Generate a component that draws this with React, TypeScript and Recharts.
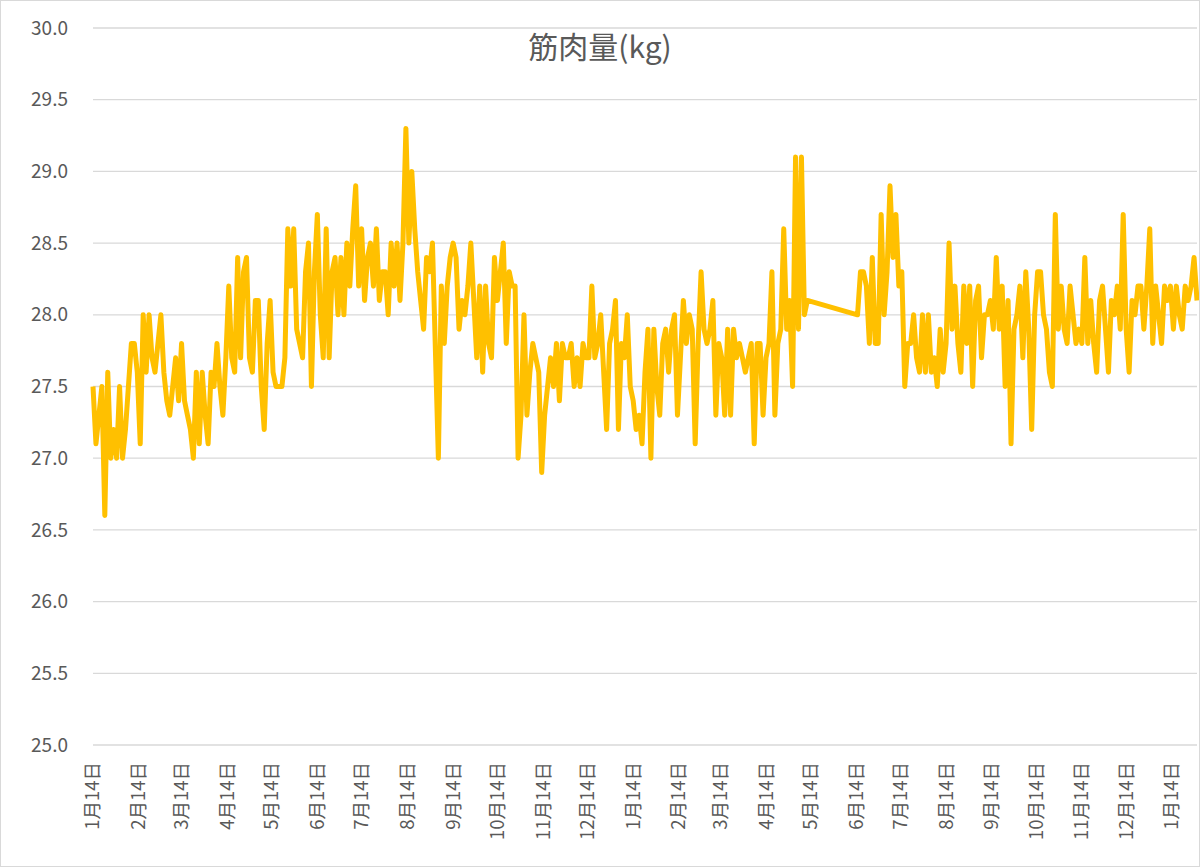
import { LineChart, Line, XAxis, YAxis, CartesianGrid } from "recharts";

// 筋肉量 readings, one value every STEP_DAYS days (null = no reading)
const FIRST_START = "2020-01-14";
const SECOND_START = "2021-01-14";
const STEP_DAYS = 2;

const firstYear: (number | null)[] = [
  27.5, 27.1, 27.3, 27.5, 26.6, 27.6, 27.0, 27.2, 27.0, 27.5,
  27.0, 27.2, 27.5, 27.8, 27.8, 27.6, 27.1, 28.0, 27.6, 28.0,
  27.7, 27.6, 27.8, 28.0, 27.6, 27.4, 27.3, 27.5, 27.7, 27.4,
  27.8, 27.4, 27.3, 27.2, 27.0, 27.6, 27.1, 27.6, 27.3, 27.1,
  27.6, 27.5, 27.8, 27.5, 27.3, 27.7, 28.2, 27.7, 27.6, 28.4,
  27.7, 28.3, 28.4, 27.7, 27.6, 28.1, 28.1, 27.5, 27.2, 27.8,
  28.1, 27.6, 27.5, 27.5, 27.5, 27.7, 28.6, 28.2, 28.6, 27.9,
  27.8, 27.7, 28.3, 28.5, 27.5, 28.3, 28.7, 28.0, 27.7, 28.6,
  27.7, 28.3, 28.4, 28.0, 28.4, 28.0, 28.5, 28.2, 28.6, 28.9,
  28.2, 28.6, 28.1, 28.4, 28.5, 28.2, 28.6, 28.1, 28.3, 28.3,
  28.0, 28.5, 28.2, 28.5, 28.1, 28.5, 29.3, 28.5, 29.0, 28.6,
  28.3, 28.1, 27.9, 28.4, 28.3, 28.5, null, 27.0, 28.2, 27.8,
  28.2, 28.4, 28.5, 28.4, 27.9, 28.1, 28.0, 28.2, 28.5, 28.1,
  27.7, 28.2, 27.6, 28.2, 27.8, 27.7, 28.4, 28.1, 28.3, 28.5,
  27.8, 28.3, 28.2, 28.2, 27.0, 27.3, 28.0, 27.3, 27.6, 27.8,
  27.7, 27.6, 26.9, 27.3, 27.5, 27.7, 27.5, 27.8, 27.4, 27.8,
  27.7, 27.7, 27.8, 27.5, 27.7, 27.5, 27.8, 27.7, 27.7, 28.2,
  27.7, 27.8, 28.0, 27.6, 27.2, 27.8, 27.9, 28.1, 27.2, 27.8,
  27.7, 28.0, 27.5,
];

const secondYear: (number | null)[] = [
  27.4, 27.2, 27.3, 27.1, 27.6, 27.9, 27.0, 27.9, 27.5, 27.3,
  27.8, 27.9, 27.6, 27.9, 28.0, 27.3, 27.7, 28.1, 27.8, 28.0,
  27.9, 27.1, 27.8, 28.3, 27.9, 27.8, 27.9, 28.1, 27.3, 27.8,
  27.7, 27.3, 27.9, 27.3, 27.9, 27.7, 27.8, 27.7, 27.6, 27.7,
  27.8, 27.1, 27.8, 27.8, 27.3, 27.7, 27.8, 28.3, 27.3, 27.8,
  27.9, 28.6, 27.9, 28.1, 27.5, 29.1, 27.9, 29.1, 28.0, 28.1,
  null, null, null, null, null, null, null, null, null, null,
  null, null, null, null, null, null, 28.0, 28.3, 28.3, 28.2,
  27.8, 28.4, 27.8, 27.8, 28.7, 28.0, 28.3, 28.9, 28.4, 28.7,
  28.2, 28.3, 27.5, 27.8, 27.8, 28.0, 27.7, 27.6, 28.0, 27.6,
  28.0, 27.6, 27.7, 27.5, 27.9, 27.6, 27.8, 28.5, 27.9, 28.2,
  27.8, 27.6, 28.2, 27.8, 28.2, 27.5, 28.1, 28.2, 27.7, 28.0,
  28.0, 28.1, 27.9, 28.4, 27.9, 28.2, 27.5, 28.1, 27.1, 27.9,
  28.0, 28.2, 27.7, 28.3, 27.9, 27.2, 28.0, 28.3, 28.3, 28.0,
  27.9, 27.6, 27.5, 28.7, 27.9, 28.2, 27.9, 27.8, 28.2, 28.0,
  27.8, 27.9, 27.8, 28.4, 27.8, 28.1, 27.8, 27.6, 28.1, 28.2,
  27.9, 27.6, 28.1, 28.0, 28.2, 27.9, 28.7, 27.9, 27.6, 28.1,
  28.0, 28.2, 28.2, 27.9, 28.2, 28.6, 27.8, 28.2, 28.0, 27.8,
  28.2, 28.1, 28.2, 27.9, 28.2, 28.0, 27.9, 28.2, 28.1, 28.2,
  28.4, 28.1,
];

const tickDates = [
  "2020-01-14", "2020-02-14", "2020-03-14", "2020-04-14", "2020-05-14",
  "2020-06-14", "2020-07-14", "2020-08-14", "2020-09-14", "2020-10-14",
  "2020-11-14", "2020-12-14", "2021-01-14", "2021-02-14", "2021-03-14",
  "2021-04-14", "2021-05-14", "2021-06-14", "2021-07-14", "2021-08-14",
  "2021-09-14", "2021-10-14", "2021-11-14", "2021-12-14", "2022-01-14",
];
const X_END_DATE = "2022-01-31";
const yTicks = [25, 25.5, 26, 26.5, 27, 27.5, 28, 28.5, 29, 29.5, 30];
const title = "筋肉量(kg)";

const DAY_MS = 86400000;
const FONT = "'Noto Sans CJK JP', 'Noto Sans', sans-serif";
const TEXT = "#595959";

const dayOf = (iso: string) =>
  Math.round((Date.parse(iso) - Date.parse(FIRST_START)) / DAY_MS);

const toRows = (start: string, values: (number | null)[]) =>
  values.map((v, i) => ({ day: dayOf(start) + i * STEP_DAYS, value: v }));

const data = [...toRows(FIRST_START, firstYear), ...toRows(SECOND_START, secondYear)];
const xTicks = tickDates.map(dayOf);

function XTick({ x, y, payload }: any) {
  const d = new Date(Date.parse(FIRST_START) + payload.value * DAY_MS);
  const label = `${d.getUTCMonth() + 1}月${d.getUTCDate()}日`;
  return (
    <text
      transform={`translate(${x},${y + 17}) rotate(-90)`}
      textAnchor="end"
      dy="0.35em"
      fill={TEXT}
      fontSize={18.5}
      fontFamily={FONT}
    >
      {label}
    </text>
  );
}

function YTick({ y, payload }: any) {
  return (
    <text x={68} y={y} dy="0.35em" textAnchor="end" fill={TEXT} fontSize={19} fontFamily={FONT}>
      {Number(payload.value).toFixed(1)}
    </text>
  );
}

export default function App() {
  return (
    <div style={{ position: "relative", width: 1200, height: 867, background: "#fff" }}>
      <style>{"body{margin:0}"}</style>
      <LineChart
        width={1200}
        height={867}
        data={data}
        margin={{ top: 28, right: 3, bottom: 0, left: 0 }}
      >
        <CartesianGrid vertical={false} stroke="#d9d9d9" strokeWidth={1.3} />
        <XAxis
          type="number"
          dataKey="day"
          domain={[0, dayOf(X_END_DATE)]}
          ticks={xTicks}
          interval={0}
          height={122}
          axisLine={false}
          tickLine={false}
          tickSize={0}
          tickMargin={0}
          tick={<XTick />}
        />
        <YAxis
          domain={[25, 30]}
          ticks={yTicks}
          width={93}
          axisLine={false}
          tickLine={false}
          tickSize={0}
          tick={<YTick />}
        />
        <Line
          type="linear"
          dataKey="value"
          stroke="#FFC000"
          strokeWidth={5}
          strokeLinejoin="round"
          dot={false}
          connectNulls
          isAnimationActive={false}
        />
      </LineChart>
      <div
        style={{
          position: "absolute",
          top: 28,
          left: 0,
          width: 1200,
          textAlign: "center",
          fontFamily: FONT,
          fontSize: 30,
          lineHeight: "34px",
          color: TEXT,
        }}
      >
        {title}
      </div>
      <div
        style={{
          position: "absolute",
          inset: 0,
          border: "1px solid #d9d9d9",
          pointerEvents: "none",
        }}
      />
    </div>
  );
}
